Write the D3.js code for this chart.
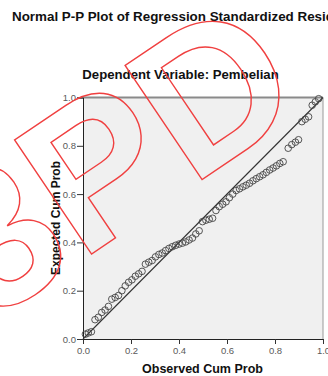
<!DOCTYPE html>
<html><head><meta charset="utf-8">
<script src="https://cdn.jsdelivr.net/npm/d3@7"></script>
<style>body{margin:0;background:#fff}svg{display:block}</style>
</head><body><svg id="c" width="328" height="376"></svg>
<script>
const observed = [0.01,0.022,0.035,0.05,0.064,0.078,0.092,0.106,0.12,0.134,0.148,0.162,0.176,0.19,0.204,0.218,0.232,0.246,0.26,0.274,0.288,0.302,0.316,0.33,0.344,0.358,0.372,0.386,0.40,0.414,0.428,0.442,0.456,0.47,0.484,0.498,0.512,0.526,0.54,0.554,0.568,0.582,0.596,0.61,0.624,0.638,0.652,0.666,0.68,0.694,0.708,0.722,0.736,0.75,0.764,0.778,0.792,0.806,0.82,0.834,0.855,0.87,0.885,0.898,0.912,0.926,0.94,0.955,0.968,0.982];
const expected = [0.02,0.025,0.03,0.08,0.09,0.11,0.12,0.135,0.165,0.172,0.18,0.2,0.22,0.235,0.245,0.26,0.27,0.28,0.31,0.318,0.325,0.34,0.35,0.356,0.366,0.375,0.382,0.388,0.393,0.397,0.402,0.41,0.418,0.435,0.448,0.486,0.492,0.496,0.5,0.532,0.548,0.558,0.568,0.585,0.6,0.615,0.622,0.63,0.637,0.645,0.655,0.664,0.672,0.68,0.69,0.70,0.708,0.717,0.727,0.734,0.79,0.805,0.815,0.825,0.90,0.91,0.92,0.968,0.982,0.995];
const ticks = [0.0,0.2,0.4,0.6,0.8,1.0];
const title = "Normal P-P Plot of Regression Standardized Residual";
const subtitle = "Dependent Variable: Pembelian";
const xTitle = "Observed Cum Prob";
const yTitle = "Expected Cum Prob";
const watermark = "3PD";

const svg = d3.select("#c");
const L=83,R=323,T=97.5,B=339;
const x = d3.scaleLinear().domain([0,1]).range([L,R]);
const y = d3.scaleLinear().domain([0,1]).range([B,T]);
const font = "'Liberation Sans', Arial, sans-serif";

svg.append("text").attr("x",12).attr("y",21).attr("font-family",font).attr("font-weight","bold").attr("font-size",13.4).attr("fill","#111").text(title);
svg.append("text").attr("x",180.5).attr("y",79).attr("text-anchor","middle").attr("font-family",font).attr("font-weight","bold").attr("font-size",13.2).attr("fill","#111").text(subtitle);

svg.append("rect").attr("x",L).attr("y",T).attr("width",R-L).attr("height",B-T).attr("fill","#f0f0f0");
svg.append("line").attr("x1",L).attr("x2",R).attr("y1",T).attr("y2",T).attr("stroke","#8a8a8a").attr("stroke-width",2);
svg.append("line").attr("x1",R).attr("x2",R).attr("y1",T).attr("y2",B).attr("stroke","#9a9a9a").attr("stroke-width",1);

const fmt = d3.format(".1f");
const xa = svg.append("g").attr("transform",`translate(0,${B})`).call(d3.axisBottom(x).tickValues(ticks).tickFormat(fmt).tickSize(5).tickPadding(3));
const ya = svg.append("g").attr("transform",`translate(${L},0)`).call(d3.axisLeft(y).tickValues(ticks).tickFormat(fmt).tickSize(6).tickPadding(1));
[xa,ya].forEach(g=>{
  g.select(".domain").attr("stroke","#222");
  g.selectAll(".tick line").attr("stroke","#333");
  g.selectAll("text").attr("font-family",font).attr("font-size",9.5).attr("fill","#5a5a5a");
});

svg.append("line").attr("x1",x(0)).attr("y1",y(0)).attr("x2",x(1)).attr("y2",y(1)).attr("stroke","#333").attr("stroke-width",1.1);

svg.append("g").selectAll("circle").data(d3.zip(observed,expected)).join("circle")
  .attr("cx",d=>x(d[0])).attr("cy",d=>y(d[1])).attr("r",3.3)
  .attr("fill","none").attr("stroke","#444").attr("stroke-width",0.9);

svg.append("text").attr("x",202.5).attr("y",373).attr("text-anchor","middle").attr("font-family",font).attr("font-weight","bold").attr("font-size",12.5).attr("fill","#111").text(xTitle);
svg.append("text").attr("transform","translate(60,218) rotate(-90)").attr("text-anchor","middle").attr("font-family",font).attr("font-weight","bold").attr("font-size",12).attr("fill","#111").text(yTitle);

// watermark
svg.append("text").attr("transform","translate(-11.8,323.7) rotate(-34)")
  .attr("font-family",font).attr("font-weight","bold").attr("font-size",200)
  .attr("fill","none").attr("stroke","#f04040").attr("stroke-width",1.4).text(watermark);
</script></body></html>
